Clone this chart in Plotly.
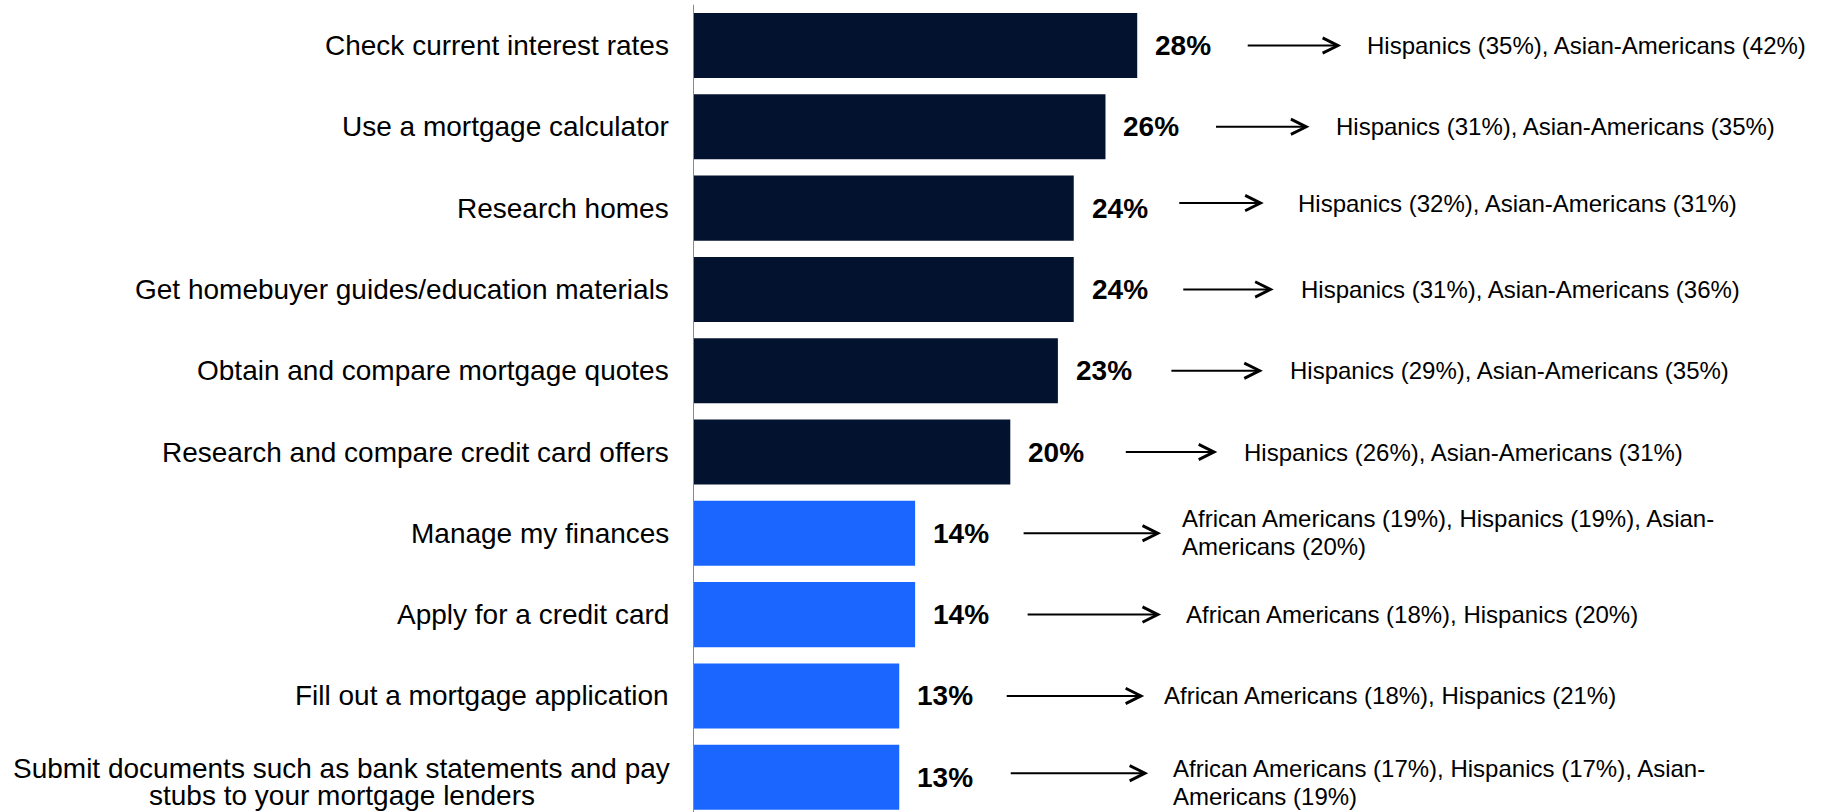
import plotly.graph_objects as go

# ---- data ---------------------------------------------------------------
categories = [
    ["Check current interest rates"],
    ["Use a mortgage calculator"],
    ["Research homes"],
    ["Get homebuyer guides/education materials"],
    ["Obtain and compare mortgage quotes"],
    ["Research and compare credit card offers"],
    ["Manage my finances"],
    ["Apply for a credit card"],
    ["Fill out a mortgage application"],
    ["Submit documents such as bank statements and pay", "stubs to your mortgage lenders"],
]
values = [28, 26, 24, 24, 23, 20, 14, 14, 13, 13]
value_labels = ["28%", "26%", "24%", "24%", "23%", "20%", "14%", "14%", "13%", "13%"]
segment_notes = [
    ["Hispanics (35%), Asian-Americans (42%)"],
    ["Hispanics (31%), Asian-Americans (35%)"],
    ["Hispanics (32%), Asian-Americans (31%)"],
    ["Hispanics (31%), Asian-Americans (36%)"],
    ["Hispanics (29%), Asian-Americans (35%)"],
    ["Hispanics (26%), Asian-Americans (31%)"],
    ["African Americans (19%), Hispanics (19%), Asian-", "Americans (20%)"],
    ["African Americans (18%), Hispanics (20%)"],
    ["African Americans (18%), Hispanics (21%)"],
    ["African Americans (17%), Hispanics (17%), Asian-", "Americans (19%)"],
]
# first six activities are highlighted in navy, the rest in blue
highlight = [True, True, True, True, True, True, False, False, False, False]

# ---- styling / layout -----------------------------------------------------
NAVY = "#03132F"
BLUE = "#1A66FF"
FONT = "Arial, Liberation Sans, sans-serif"
W, H = 1821, 812
LEFT = 693
X_MAX = 71.1
Y_RANGE = [9.428, -0.56]

# pixel offsets of arrows and notes to the right of each value label
arrow_gap = [109, 109, 104, 108, 112, 114, 107, 111, 106, 110]
arrow_len = [95, 95, 86, 92, 93, 93, 139, 135, 139, 139]
note_gap = [26, 27, 34, 27, 27, 27, 21, 25, 20, 25]
arrow_dy = [0, 0, 5, 0, 0, 0, 0, 0, 0, 4]
note_dy = [0, 0, 5, 0, 0, 0, 1, 0, 0, -5]
label_dy = [0, 0, 0, 0, 0, 0, 0, 0, 0, -5]
NOTE_LINE = 28
CAT_LINE = 27
CAT_CENTER = 351.5  # centre of wrapped category text, px left of the axis

rows = list(range(len(values)))

fig = go.Figure(
    go.Bar(
        x=values,
        y=rows,
        orientation="h",
        width=0.8,
        marker=dict(color=[NAVY if h else BLUE for h in highlight], line=dict(width=0)),
        hoverinfo="skip",
    )
)

ann = []
for i, v in enumerate(values):
    # category label(s) left of the axis
    lines = categories[i]
    n = len(lines)
    for k, line in enumerate(lines):
        dy = ((n - 1) / 2 - k) * CAT_LINE + label_dy[i]
        if n == 1:
            ann.append(dict(x=0, y=i, xref="x", yref="y", text=line, showarrow=False,
                            xanchor="right", yanchor="middle", xshift=-24, yshift=dy,
                            font=dict(size=28, color="black", family=FONT),
                            borderpad=0, borderwidth=0))
        else:
            ann.append(dict(x=0, y=i, xref="x", yref="y", text=line, showarrow=False,
                            xanchor="center", yanchor="middle", xshift=-CAT_CENTER, yshift=dy,
                            font=dict(size=28, color="black", family=FONT),
                            borderpad=0, borderwidth=0))

    # bold value label
    ann.append(dict(x=v, y=i, xref="x", yref="y", text="<b>%s</b>" % value_labels[i],
                    showarrow=False, xanchor="left", yanchor="middle", xshift=18,
                    font=dict(size=28, color="black", family=FONT),
                    borderpad=0, borderwidth=0))

    # arrow pointing to the subgroup note
    ann.append(dict(x=v, y=i, xref="x", yref="y", text="", showarrow=True,
                    ax=-arrow_len[i], ay=0, xshift=arrow_gap[i] + arrow_len[i],
                    yshift=arrow_dy[i], arrowhead=5, arrowsize=1.5, arrowwidth=2,
                    arrowcolor="black", standoff=0, startstandoff=0))

    # subgroup note(s)
    notes = segment_notes[i]
    m = len(notes)
    for k, line in enumerate(notes):
        dy = ((m - 1) / 2 - k) * NOTE_LINE + note_dy[i]
        ann.append(dict(x=v, y=i, xref="x", yref="y", text=line, showarrow=False,
                        xanchor="left", yanchor="middle",
                        xshift=arrow_gap[i] + arrow_len[i] + note_gap[i], yshift=dy,
                        font=dict(size=24, color="black", family=FONT),
                        borderpad=0, borderwidth=0))

fig.update_layout(
    width=W,
    height=H,
    margin=dict(l=LEFT, r=0, t=0, b=0),
    paper_bgcolor="white",
    plot_bgcolor="white",
    showlegend=False,
    bargap=0.2,
    xaxis=dict(range=[0, X_MAX], visible=False, fixedrange=True),
    yaxis=dict(range=Y_RANGE, visible=False, fixedrange=True),
    annotations=ann,
    shapes=[dict(type="line", xref="x", yref="paper", x0=0, x1=0, y0=0, y1=0.994,
                 line=dict(color="#8a8a8a", width=2), layer="above")],
)

fig.write_html("out.html", config={"displayModeBar": False})
